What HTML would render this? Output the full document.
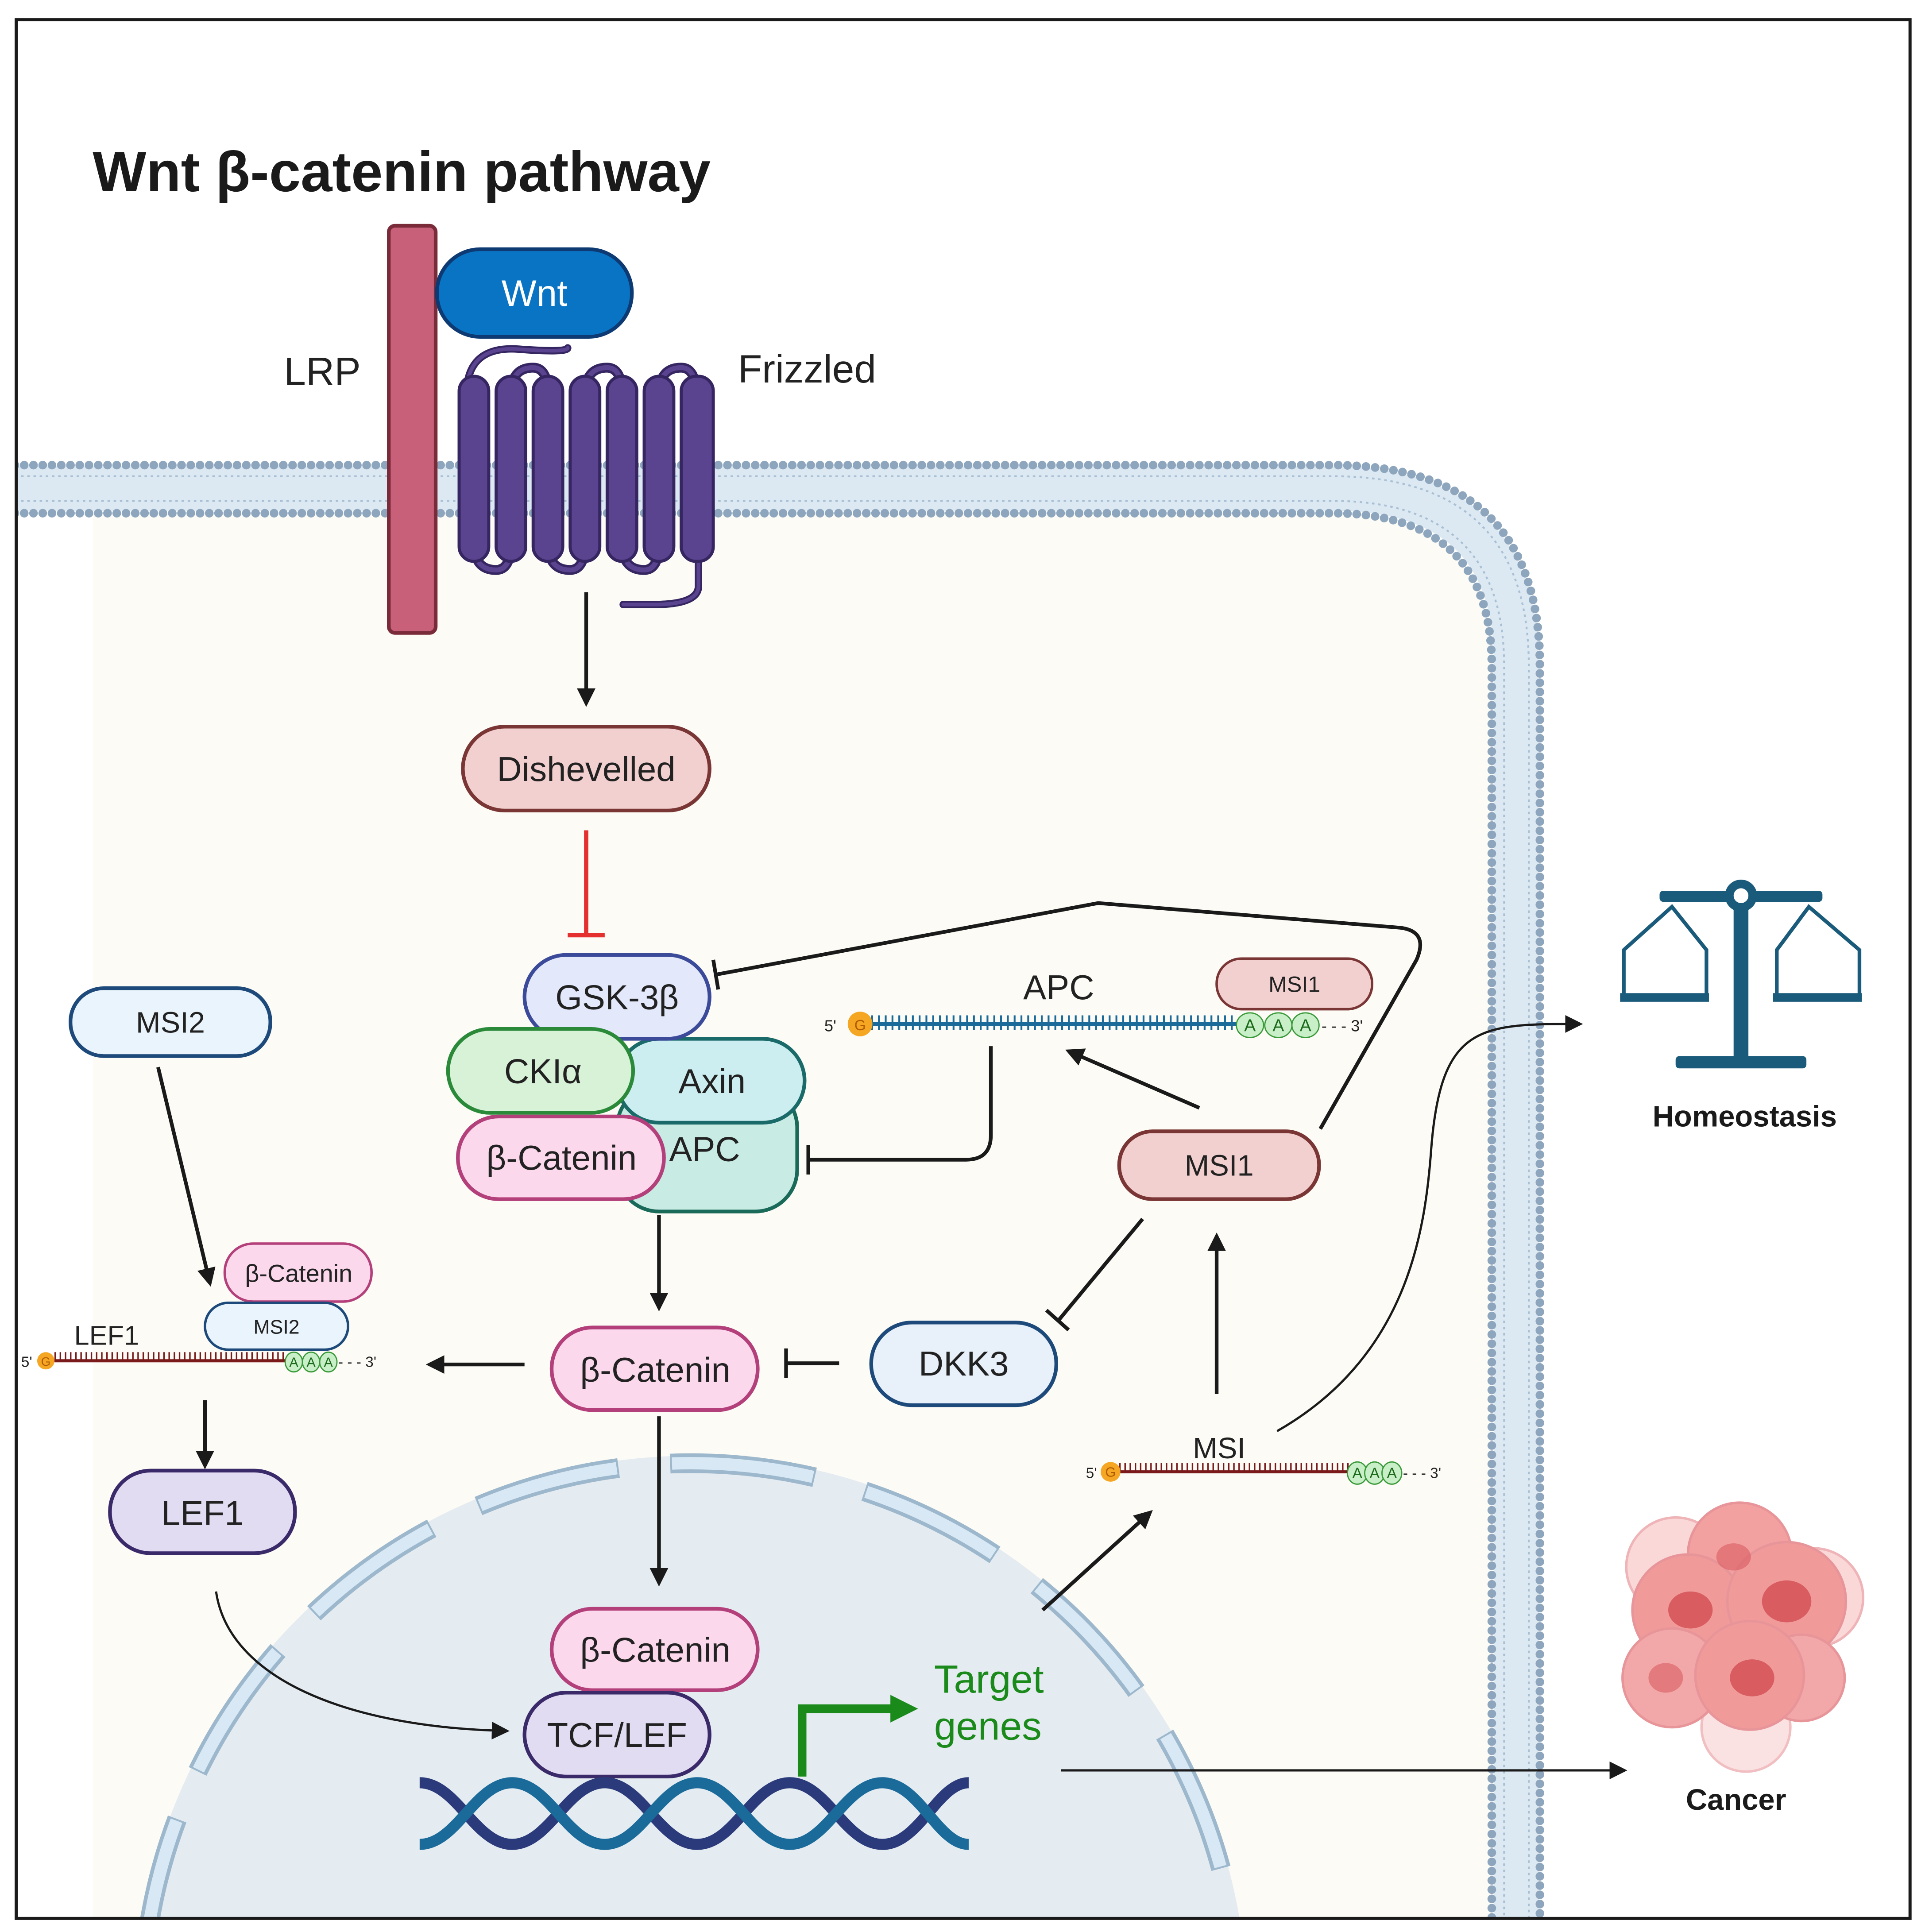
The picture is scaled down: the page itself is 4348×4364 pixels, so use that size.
<!DOCTYPE html>
<html><head><meta charset="utf-8"><style>
html,body{margin:0;padding:0;background:#fff;width:4348px;height:4364px;overflow:hidden}
svg{display:block}
text{font-family:"Liberation Sans",sans-serif}
</style></head><body>
<svg width="4348" height="4364" viewBox="0 0 1560 1566" xmlns="http://www.w3.org/2000/svg" style="overflow:hidden">
<defs>
<marker id="ah" viewBox="0 0 10 10" refX="8" refY="5" markerWidth="5" markerHeight="5" orient="auto-start-reverse"><path d="M0,0L10,5L0,10z" fill="#1a1a1a"/></marker>
<marker id="ah2" viewBox="0 0 10 10" refX="8" refY="5" markerWidth="8" markerHeight="8" orient="auto"><path d="M0,0L10,5L0,10z" fill="#1a1a1a"/></marker>
<marker id="ahg" viewBox="0 0 10 10" refX="6" refY="5" markerWidth="3.2" markerHeight="3.2" orient="auto"><path d="M0,0L10,5L0,10z" fill="#1a8a1a"/></marker>
<clipPath id="bd"><rect x="13" y="16" width="1535" height="1539"/></clipPath>
</defs>
<rect x="0" y="0" width="1560" height="1566" fill="#fff"/>
<g clip-path="url(#bd)">
<path d="M75,416 H1080 Q1207,416 1207,540 V1566 H75 Z" fill="#fcfbf5"/>
<circle cx="560" cy="1631" r="451" fill="#e4ebf1"/>
<circle cx="560" cy="1631" r="445" fill="none" stroke="#9db8cc" stroke-width="16" stroke-dasharray="118 42"/>
<circle cx="560" cy="1631" r="445" fill="none" stroke="#d8e9f5" stroke-width="10" stroke-dasharray="115 45" stroke-dashoffset="-1.5"/>
<g fill="none">
<path d="M12,396 H1080 Q1229,396 1229,540 V1566" stroke="#dce8f2" stroke-width="36"/>
<path d="M12,386 H1080 Q1239,386 1239,540 V1566" stroke="#a9c0d4" stroke-width="1.5" stroke-dasharray="2 3"/>
<path d="M12,406 H1080 Q1219,406 1219,540 V1566" stroke="#a9c0d4" stroke-width="1.5" stroke-dasharray="2 3"/>
<path d="M12,377 H1080 Q1248,377 1248,540 V1566" stroke="#8ea6bd" stroke-width="7" stroke-linecap="round" stroke-dasharray="0 7.5"/>
<path d="M12,416 H1080 Q1209,416 1209,540 V1566" stroke="#8ea6bd" stroke-width="7" stroke-linecap="round" stroke-dasharray="0 7.5"/>
</g>
</g>
<rect x="13" y="16" width="1535" height="1539" fill="none" stroke="#1a1a1a" stroke-width="2.5"/>
<text x="75" y="155" font-size="46" font-weight="bold" fill="#1a1a1a">Wnt β-catenin pathway</text>
<rect x="315" y="183" width="38" height="330" rx="5" fill="#c9607a" stroke="#7a2b3a" stroke-width="3"/>
<text x="230" y="312" font-size="32" fill="#222">LRP</text>
<g fill="none" stroke-linecap="round">
<path d="M378,320 Q378,280 420,283 Q460,286 460,282" stroke="#352560" stroke-width="6"/>
<path d="M378,320 Q378,280 420,283 Q460,286 460,282" stroke="#5a4490" stroke-width="3"/>
<path d="M384,440 q0,22 18,22 q12,0 12,-22 M444,440 q0,22 18,22 q12,0 12,-22 M504,440 q0,22 18,22 q12,0 12,-22 M414,320 q0,-22 18,-22 q12,0 12,22 M474,320 q0,-22 18,-22 q12,0 12,22 M534,320 q0,-22 18,-22 q12,0 12,22" stroke="#352560" stroke-width="8"/>
<path d="M384,440 q0,22 18,22 q12,0 12,-22 M444,440 q0,22 18,22 q12,0 12,-22 M504,440 q0,22 18,22 q12,0 12,-22 M414,320 q0,-22 18,-22 q12,0 12,22 M474,320 q0,-22 18,-22 q12,0 12,22 M534,320 q0,-22 18,-22 q12,0 12,22" stroke="#5a4490" stroke-width="4"/>
<path d="M566,440 V475 Q566,490 530,490 H505" stroke="#352560" stroke-width="6"/>
<path d="M566,440 V475 Q566,490 530,490 H505" stroke="#5a4490" stroke-width="3"/>
</g>
<g fill="#5a4490" stroke="#352560" stroke-width="2.5">
<rect x="372" y="305" width="24" height="150" rx="12"/>
<rect x="402" y="305" width="24" height="150" rx="12"/>
<rect x="432" y="305" width="24" height="150" rx="12"/>
<rect x="462" y="305" width="24" height="150" rx="12"/>
<rect x="492" y="305" width="24" height="150" rx="12"/>
<rect x="522" y="305" width="24" height="150" rx="12"/>
<rect x="552" y="305" width="26" height="150" rx="12"/>
</g>
<rect x="354" y="202" width="158" height="71" rx="35" fill="#0a74c4" stroke="#0d3a72" stroke-width="3"/>
<text x="433" y="248" font-size="30" fill="#fff" text-anchor="middle">Wnt</text>
<text x="598" y="310" font-size="32" fill="#222">Frizzled</text>
<g stroke="#1a1a1a" stroke-width="3" fill="none">
<line x1="475" y1="480" x2="475" y2="570" marker-end="url(#ah)"/>
<line x1="534" y1="985" x2="534" y2="1060" marker-end="url(#ah)"/>
<line x1="534" y1="1148" x2="534" y2="1283" marker-end="url(#ah)"/>
<line x1="680" y1="1105" x2="637" y2="1105"/><line x1="637" y1="1093" x2="637" y2="1117"/>
<line x1="926" y1="988" x2="858" y2="1070"/><line x1="848" y1="1062" x2="866" y2="1078"/>
<line x1="986" y1="1130" x2="986" y2="1002" marker-end="url(#ah)"/>
<line x1="845" y1="1305" x2="932" y2="1226" marker-end="url(#ah)"/>
<line x1="972" y1="898" x2="866" y2="852" marker-end="url(#ah)"/>
<path d="M803,848 V920 Q803,940 783,940 H655"/><line x1="655" y1="928" x2="655" y2="952"/>
<path d="M1070,915 L1148,778 Q1158,755 1135,752 L890,732 L580,790"/><line x1="578" y1="778" x2="582" y2="802"/>
<line x1="128" y1="865" x2="170" y2="1040" marker-end="url(#ah)"/>
<line x1="425" y1="1106" x2="348" y2="1106" marker-end="url(#ah)"/>
<line x1="166" y1="1135" x2="166" y2="1188" marker-end="url(#ah)"/>
</g>
<g stroke="#1a1a1a" stroke-width="1.8" fill="none">
<path d="M1035,1160 C1140,1100 1155,1000 1160,930 C1168,830 1200,830 1280,830" marker-end="url(#ah2)"/>
<path d="M175,1290 C185,1360 280,1400 410,1403" marker-end="url(#ah2)"/>
<line x1="860" y1="1435" x2="1316" y2="1435" marker-end="url(#ah2)"/>
</g>
<g stroke="#e53030" stroke-width="3.5"><line x1="475" y1="673" x2="475" y2="757"/><line x1="460" y1="758" x2="490" y2="758"/></g>
<g stroke-width="3">
<rect x="375" y="589" width="200" height="68" rx="34" fill="#f3d0d0" stroke="#7a3535"/>
<rect x="500" y="880" width="146" height="102" rx="34" fill="#c8ece4" stroke="#1a6a5a"/>
<rect x="500" y="842" width="152" height="68" rx="34" fill="#cdeef0" stroke="#1a6a6a"/>
<rect x="425" y="774" width="150" height="68" rx="34" fill="#e3e9fa" stroke="#3b4b9a"/>
<rect x="363" y="834" width="150" height="68" rx="34" fill="#d8f2d8" stroke="#2a8a3a"/>
<rect x="371" y="905" width="167" height="67" rx="33" fill="#fbd8ec" stroke="#b3407a"/>
<rect x="447" y="1076" width="167" height="67" rx="33" fill="#fbd8ec" stroke="#b3407a"/>
<rect x="447" y="1304" width="167" height="66" rx="33" fill="#fbd8ec" stroke="#b3407a"/>
<rect x="425" y="1372" width="150" height="68" rx="34" fill="#e2dcf2" stroke="#3a2a6a"/>
<rect x="706" y="1072" width="150" height="67" rx="33" fill="#e8f0fa" stroke="#1d4a7a"/>
<rect x="907" y="917" width="162" height="55" rx="27" fill="#f3d0d0" stroke="#7a3535"/>
<rect x="986" y="777" width="126" height="41" rx="20" fill="#f3d0d0" stroke="#7a3535" stroke-width="2"/>
<rect x="57" y="801" width="162" height="55" rx="27" fill="#eaf4fc" stroke="#1d4a7a"/>
<rect x="182" y="1008" width="119" height="47" rx="23" fill="#fbd8ec" stroke="#b3407a" stroke-width="2"/>
<rect x="166" y="1056" width="116" height="38" rx="19" fill="#eaf4fc" stroke="#1d4a7a" stroke-width="2"/>
<rect x="89" y="1192" width="150" height="67" rx="33" fill="#e2dcf2" stroke="#3a2a6a"/>
</g>
<g font-size="28" fill="#222" text-anchor="middle">
<text x="475" y="633">Dishevelled</text>
<text x="500" y="818">GSK-3β</text>
<text x="577" y="886">Axin</text>
<text x="571" y="941">APC</text>
<text x="440" y="878">CKIα</text>
<text x="455" y="948">β-Catenin</text>
<text x="531" y="1120">β-Catenin</text>
<text x="531" y="1347">β-Catenin</text>
<text x="500" y="1416">TCF/LEF</text>
<text x="781" y="1115">DKK3</text>
<text x="164" y="1236">LEF1</text>
<text x="988" y="953" font-size="24">MSI1</text>
<text x="1049" y="804" font-size="18">MSI1</text>
<text x="138" y="837" font-size="24">MSI2</text>
<text x="242" y="1039" font-size="20">β-Catenin</text>
<text x="224" y="1081" font-size="16">MSI2</text>
</g>
<g fill="none" stroke-width="9">
<path d="M340,1445 C370,1445 385,1495 415,1495 C445,1495 460,1445 490,1445 C520,1445 535,1495 565,1495 C595,1495 610,1445 640,1445 C670,1445 685,1495 715,1495 C745,1495 760,1445 785,1445" stroke="#2a3a7a"/>
<path d="M340,1495 C370,1495 385,1445 415,1445 C445,1445 460,1495 490,1495 C520,1495 535,1445 565,1445 C595,1445 610,1495 640,1495 C670,1495 685,1445 715,1445 C745,1445 760,1495 785,1495" stroke="#1a6a9a"/>
</g>
<path d="M650,1440 V1385 H735" fill="none" stroke="#1a8a1a" stroke-width="7" marker-end="url(#ahg)"/>
<text x="757" y="1372" font-size="32" fill="#1a8a1a">Target</text>
<text x="757" y="1410" font-size="32" fill="#1a8a1a">genes</text>
<text x="858" y="810" font-size="28" fill="#222" text-anchor="middle">APC</text>
<text x="668" y="836" font-size="13" fill="#222">5'</text>
<line x1="706" y1="830" x2="1003" y2="830" stroke="#1a6a9a" stroke-width="3"/>
<line x1="706" y1="829" x2="1003" y2="829" stroke="#1a6a9a" stroke-width="12" stroke-dasharray="1.5 4"/>
<circle cx="697" cy="830" r="10" fill="#f5a623"/><text x="697" y="835" font-size="12" fill="#b05a00" text-anchor="middle">G</text>
<g fill="#c9efc9" stroke="#3a9a3a" stroke-width="1"><ellipse cx="1013" cy="831" rx="11" ry="10"/><ellipse cx="1036" cy="831" rx="11" ry="10"/><ellipse cx="1058" cy="831" rx="11" ry="10"/></g>
<g font-size="14" fill="#1a6a1a" text-anchor="middle"><text x="1013" y="836">A</text><text x="1036" y="836">A</text><text x="1058" y="836">A</text></g>
<text x="1071" y="836" font-size="13" fill="#222">- - - 3'</text>
<text x="988" y="1182" font-size="24" fill="#222" text-anchor="middle">MSI</text>
<text x="880" y="1198" font-size="12" fill="#222">5'</text>
<line x1="907" y1="1193" x2="1095" y2="1193" stroke="#7a1a1a" stroke-width="2.5"/>
<line x1="907" y1="1190" x2="1095" y2="1190" stroke="#7a1a1a" stroke-width="8" stroke-dasharray="1.2 3"/>
<circle cx="900" cy="1193" r="8" fill="#f5a623"/><text x="900" y="1197" font-size="11" fill="#b05a00" text-anchor="middle">G</text>
<g fill="#c9efc9" stroke="#3a9a3a" stroke-width="1"><ellipse cx="1100" cy="1194" rx="8" ry="9"/><ellipse cx="1114" cy="1194" rx="8" ry="9"/><ellipse cx="1128" cy="1194" rx="8" ry="9"/></g>
<g font-size="12" fill="#1a6a1a" text-anchor="middle"><text x="1100" y="1198">A</text><text x="1114" y="1198">A</text><text x="1128" y="1198">A</text></g>
<text x="1137" y="1198" font-size="12" fill="#222">- - - 3'</text>
<text x="60" y="1090" font-size="22" fill="#222">LEF1</text>
<text x="17" y="1108" font-size="12" fill="#222">5'</text>
<line x1="44" y1="1103" x2="232" y2="1103" stroke="#7a1a1a" stroke-width="2.5"/>
<line x1="44" y1="1100" x2="232" y2="1100" stroke="#7a1a1a" stroke-width="8" stroke-dasharray="1.2 3"/>
<circle cx="37" cy="1103" r="7" fill="#f5a623"/><text x="37" y="1107" font-size="10" fill="#b05a00" text-anchor="middle">G</text>
<g fill="#c9efc9" stroke="#3a9a3a" stroke-width="1"><ellipse cx="238" cy="1104" rx="7" ry="8"/><ellipse cx="252" cy="1104" rx="7" ry="8"/><ellipse cx="266" cy="1104" rx="7" ry="8"/></g>
<g font-size="11" fill="#1a6a1a" text-anchor="middle"><text x="238" y="1108">A</text><text x="252" y="1108">A</text><text x="266" y="1108">A</text></g>
<text x="274" y="1108" font-size="12" fill="#222">- - - 3'</text>
<g fill="#1a5a7a" stroke="#1a5a7a">
<rect x="1405" y="730" width="12" height="128" stroke="none"/>
<rect x="1358" y="856" width="106" height="10" rx="3" stroke="none"/>
<rect x="1345" y="722" width="132" height="9" rx="3" stroke="none"/>
<circle cx="1411" cy="726" r="13" stroke="none"/><circle cx="1411" cy="726" r="6" fill="#fff" stroke="none"/>
<path d="M1355,735 L1316,770 V808 H1383 V770 Z M1466,735 L1440,770 V808 H1507 V770 Z" fill="none" stroke-width="3"/>
<rect x="1313" y="805" width="72" height="7" stroke="none"/><rect x="1437" y="805" width="72" height="7" stroke="none"/>
</g>
<text x="1414" y="913" font-size="24" font-weight="bold" fill="#1a1a1a" text-anchor="middle">Homeostasis</text>
<g stroke="#e8959a" stroke-width="2">
<circle cx="1358" cy="1270" r="40" fill="#f8c8c8" opacity="0.7"/>
<circle cx="1470" cy="1295" r="40" fill="#f8c8c8" opacity="0.7"/>
<circle cx="1415" cy="1400" r="36" fill="#f8d0d0" opacity="0.6"/>
<circle cx="1410" cy="1260" r="42" fill="#f2a0a0"/>
<circle cx="1368" cy="1305" r="45" fill="#f09a9a"/>
<circle cx="1448" cy="1298" r="48" fill="#f09a9a"/>
<circle cx="1355" cy="1360" r="40" fill="#f2a8a8"/>
<circle cx="1460" cy="1360" r="35" fill="#f2a8a8"/>
<circle cx="1418" cy="1358" r="44" fill="#f09a9a"/>
</g>
<g fill="#d85c60"><ellipse cx="1370" cy="1305" rx="18" ry="15"/><ellipse cx="1448" cy="1298" rx="20" ry="17"/><ellipse cx="1420" cy="1360" rx="18" ry="15"/><ellipse cx="1350" cy="1360" rx="14" ry="12" opacity=".6"/><ellipse cx="1405" cy="1262" rx="14" ry="11" opacity=".6"/></g>
<text x="1407" y="1467" font-size="24" font-weight="bold" fill="#1a1a1a" text-anchor="middle">Cancer</text>
</svg>
</body></html>
